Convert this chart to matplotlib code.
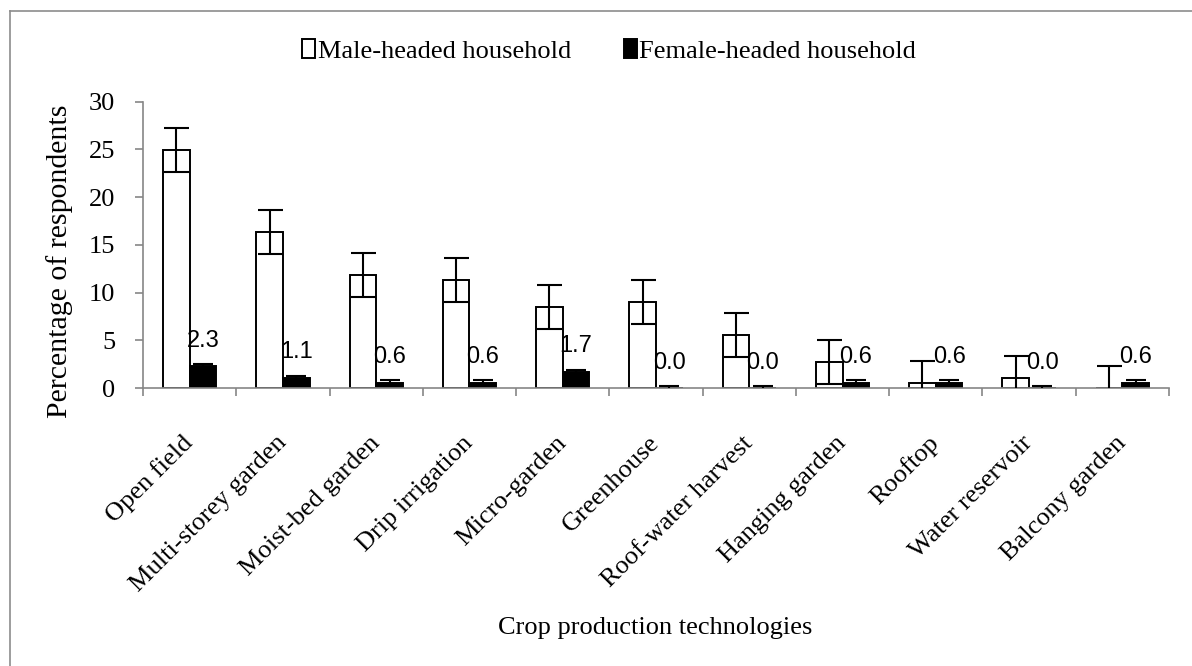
import matplotlib.pyplot as plt
import numpy as np
from matplotlib.lines import Line2D

# Data
categories = ['Open field', 'Multi-storey garden', 'Moist-bed garden', 'Drip irrigation',
              'Micro-garden', 'Greenhouse', 'Roof-water harvest', 'Hanging garden',
              'Rooftop', 'Water reservoir', 'Balcony garden']
male = [24.9, 16.4, 11.9, 11.3, 8.5, 9.0, 5.6, 2.8, 0.6, 1.1, 0.0]
female = [2.3, 1.1, 0.6, 0.6, 1.7, 0.0, 0.0, 0.6, 0.6, 0.0, 0.6]
male_err = [2.3] * len(male)
female_err = [0.22] * len(female)
female_labels = ['2.3', '1.1', '0.6', '0.6', '1.7', '0.0', '0.0', '0.6', '0.6', '0.0', '0.6']

serif = 'Liberation Serif'
axis_grey = '#868686'

fig = plt.figure(figsize=(11.92, 6.66), dpi=100)
ax = fig.add_axes([143/1192, 1 - 388.3/666, 1026/1192, 286.8/666])

x = np.arange(len(categories))
w = 0.286

ax.bar(x - w/2, male, width=w, color='white', edgecolor='black', linewidth=1.4,
       label='Male-headed household', zorder=2)
ax.bar(x + w/2, female, width=w, color='black', edgecolor='black', linewidth=1.4,
       label='Female-headed household', zorder=2)
ax.errorbar(x - w/2, male, yerr=male_err, fmt='none', ecolor='black', elinewidth=1.5,
            capsize=9, capthick=1.5, zorder=3)
ax.errorbar(x + w/2, female, yerr=female_err, fmt='none', ecolor='black', elinewidth=1.5,
            capsize=7, capthick=1.5, zorder=3)

for xi, yi, lab in zip(x + w/2, female, female_labels):
    ax.annotate(lab, (xi, yi), xytext=(0, 18.5), textcoords='offset points',
                ha='center', va='center', fontsize=17, family='Liberation Sans')

ax.set_xlim(-0.5, len(categories) - 0.5)
ax.set_ylim(0, 30)
ax.set_yticks(range(0, 31, 5))

# category labels at centres, ticks at boundaries
ax.set_xticks(x)
ax.set_xticklabels(categories, rotation=45, ha='right', va='center',
                   rotation_mode='anchor', fontsize=19, family=serif)
ax.tick_params(axis='x', which='major', length=0, pad=37)
ax.set_xticks(np.arange(-0.5, len(categories)), minor=True)
ax.tick_params(axis='x', which='minor', length=6, width=1.2, color=axis_grey, direction='out')
ax.tick_params(axis='y', length=6, width=1.2, color=axis_grey, pad=14, labelsize=19)
for t in ax.get_yticklabels():
    t.set_family(serif)

for side in ['top', 'right']:
    ax.spines[side].set_visible(False)
for side in ['left', 'bottom']:
    ax.spines[side].set_color(axis_grey)
    ax.spines[side].set_linewidth(1.2)

ax.set_ylabel('Percentage of respondents', fontsize=21.5, family=serif)
ax.yaxis.set_label_coords(-0.068, 0.444)
fig.text(655/1192, 1 - 628/666, 'Crop production technologies', ha='center', va='center',
         fontsize=19, family=serif)

fig.legend(loc='center', bbox_to_anchor=(609/1192, 1 - 51/666), ncol=2, frameon=False,
           prop={'family': serif, 'size': 19}, handlelength=0.5, handleheight=0.7,
           handletextpad=0.1, columnspacing=2.0)

# outer chart border (only left and top visible in the crop)
fig.add_artist(Line2D([10/1192, 10/1192], [0, 1 - 11/666], transform=fig.transFigure,
                      color='#8c8c8c', linewidth=1.2))
fig.add_artist(Line2D([10/1192, 1], [1 - 11/666, 1 - 11/666], transform=fig.transFigure,
                      color='#8c8c8c', linewidth=1.2))

fig.savefig('out.png', dpi=100)
